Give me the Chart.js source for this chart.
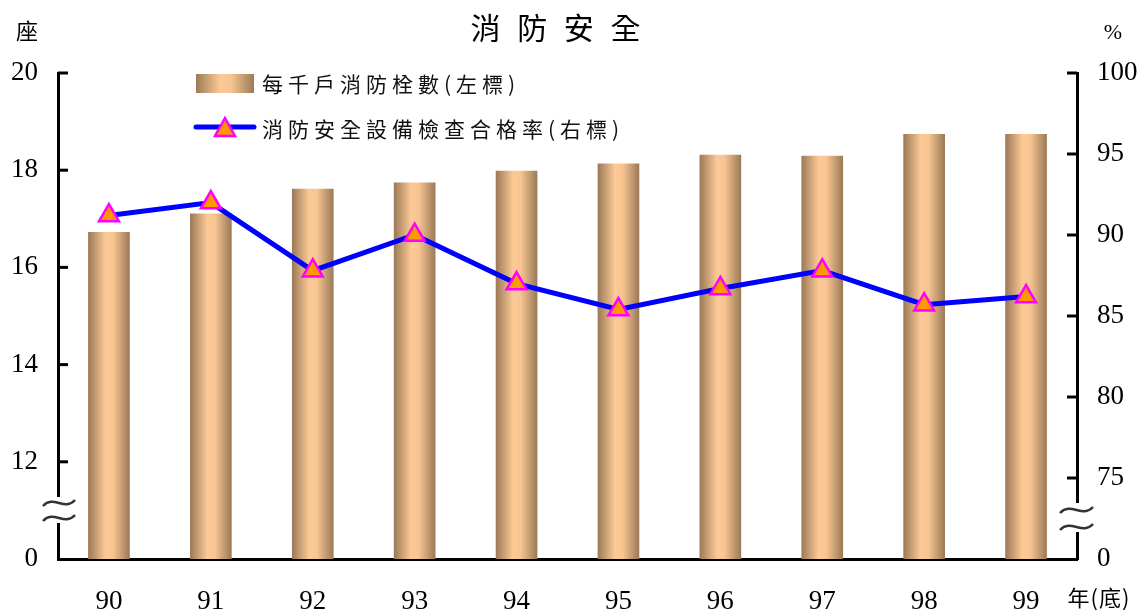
<!DOCTYPE html>
<html>
<head>
<meta charset="utf-8">
<script src="https://cdn.jsdelivr.net/npm/chart.js@4"></script>
<style>
  html, body { margin: 0; padding: 0; background: #fff; }
  #wrap { width: 1137px; height: 613px; }
</style>
</head>
<body>
<div id="wrap"><canvas id="myChart" width="1137" height="613"></canvas></div>
<script>
// 資料
const years = ['90', '91', '92', '93', '94', '95', '96', '97', '98', '99'];
const hydrants = [16.72, 17.10, 17.61, 17.74, 17.98, 18.13, 18.31, 18.29, 18.74, 18.74]; // 每千戶消防栓數
const passRate = [91.2, 92.0, 87.8, 90.0, 87.0, 85.4, 86.7, 87.8, 85.7, 86.2]; // 合格率 %
const leftTicks = ['0', '12', '14', '16', '18', '20'];
const rightTicks = ['0', '75', '80', '85', '90', '95', '100'];
const legendLabels = ['每千戶消防栓數(左標)', '消防安全設備檢查合格率(右標)'];
const titleText = '消 防 安 全';

const ctx = document.getElementById('myChart').getContext('2d');
const cjk = '"Noto Sans CJK TC", "Noto Sans CJK SC", sans-serif';
const serif = '"Liberation Serif", "DejaVu Serif", serif';

function barGradient(c, x0, x1) {
    const g = c.createLinearGradient(x0, 0, x1, 0);
    g.addColorStop(0, '#9c7a58');
    g.addColorStop(0.42, '#fdca97');
    g.addColorStop(0.6, '#f8c592');
    g.addColorStop(1, '#9c7a58');
    return g;
}

function tilde(c, x0, y, w) {
    c.beginPath();
    c.moveTo(x0, y + 3);
    c.bezierCurveTo(x0 + w / 3, y - 9, x0 + 2 * w / 3, y + 9, x0 + w, y - 3);
    c.stroke();
}

// 標題、圖例、斷軸符號
const extras = {
    id: 'extras',
    afterDraw(chart) {
        const c = chart.ctx;
        const ya = chart.scales.y, yb = chart.scales.y1;
        const left = chart.chartArea.left, right = chart.chartArea.right;
        c.save();

        // 內側刻度
        c.strokeStyle = '#000';
        c.lineWidth = 3;
        [12, 14, 16, 18, 20].forEach(v => {
            const p = ya.getPixelForValue(v);
            c.beginPath(); c.moveTo(left, p); c.lineTo(left + 10, p); c.stroke();
        });
        [75, 80, 85, 90, 95, 100].forEach(v => {
            const p = yb.getPixelForValue(v);
            c.beginPath(); c.moveTo(right, p); c.lineTo(right - 10, p); c.stroke();
        });

        // 斷軸
        c.fillStyle = '#fff';
        c.fillRect(left - 6, 497, 12, 26);
        c.fillRect(right - 6, 503, 12, 29);
        c.strokeStyle = '#333';
        c.lineWidth = 2.5;
        tilde(c, 43, 503, 32);
        tilde(c, 43, 518, 32);
        tilde(c, 1060, 510, 33);
        tilde(c, 1060, 527, 33);

        // 標題
        c.fillStyle = '#000';
        c.textBaseline = 'middle';
        c.textAlign = 'center';
        c.font = '30px ' + cjk;
        c.letterSpacing = '5px';
        c.fillText(titleText, 558, 28);
        c.letterSpacing = '0px';

        // 單位
        c.font = '22px ' + cjk;
        c.fillText('座', 27, 31);
        c.font = '22px ' + serif;
        c.fillText('%', 1113, 33);
        c.font = '22px ' + cjk;
        c.letterSpacing = '1px';
        c.fillText('年(底)', 1099, 598);

        // 圖例
        c.fillStyle = barGradient(c, 196, 254);
        c.fillRect(196, 74, 58, 19);
        c.strokeStyle = '#0000ff';
        c.lineWidth = 5;
        c.lineCap = 'round';
        c.beginPath(); c.moveTo(196, 127); c.lineTo(254, 127); c.stroke();
        c.beginPath();
        c.moveTo(225, 118); c.lineTo(235, 136); c.lineTo(215, 136); c.closePath();
        c.fillStyle = '#ff9900'; c.fill();
        c.strokeStyle = '#ff00ff'; c.lineWidth = 2.5; c.lineCap = 'butt'; c.stroke();

        c.fillStyle = '#111';
        c.textAlign = 'left';
        c.font = '21px ' + cjk;
        c.letterSpacing = '5px';
        c.fillText(legendLabels[0], 262, 84);
        c.fillText(legendLabels[1], 262, 129);
        c.restore();
    }
};

const myChart = new Chart(ctx, {
    type: 'bar',
    data: {
        labels: years,
        datasets: [
            {
                type: 'line',
                label: legendLabels[1],
                data: passRate,
                yAxisID: 'y1',
                order: 0,
                borderColor: '#0000ff',
                borderWidth: 5,
                pointStyle: 'triangle',
                pointRadius: 11.5,
                pointBackgroundColor: '#ff9900',
                pointBorderColor: '#ff00ff',
                pointBorderWidth: 2.5,
                tension: 0
            },
            {
                label: legendLabels[0],
                data: hydrants,
                yAxisID: 'y',
                order: 1,
                barThickness: 41,
                backgroundColor: (context) => {
                    const chart = context.chart;
                    if (!chart.chartArea || context.dataIndex === undefined) return '#d8a878';
                    const x = chart.scales.x.getPixelForValue(context.dataIndex);
                    return barGradient(chart.ctx, x - 20.5, x + 20.5);
                }
            }
        ]
    },
    options: {
        responsive: false,
        animation: false,
        devicePixelRatio: 1,
        layout: { padding: { top: 73, left: 0, right: 0, bottom: 0 } },
        plugins: {
            legend: { display: false },
            tooltip: { enabled: false }
        },
        scales: {
            x: {
                offset: true,
                grid: { display: false, drawTicks: false },
                border: { display: true, color: '#000', width: 3 },
                ticks: { color: '#000', font: { family: serif, size: 27 }, padding: 27 },
                afterFit: (s) => { s.height = 54; }
            },
            y: {
                position: 'left',
                min: 10,
                max: 20,
                grid: { drawOnChartArea: false, drawTicks: false },
                border: { display: true, color: '#000', width: 3 },
                ticks: {
                    stepSize: 2,
                    color: '#000',
                    font: { family: serif, size: 27 },
                    padding: 20,
                    callback: (v, i) => leftTicks[i]
                },
                afterFit: (s) => { s.width = 58; }
            },
            y1: {
                position: 'right',
                min: 70,
                max: 100,
                grid: { drawOnChartArea: false, drawTicks: false },
                border: { display: true, color: '#000', width: 3 },
                ticks: {
                    stepSize: 5,
                    color: '#000',
                    font: { family: serif, size: 27 },
                    padding: 20,
                    callback: (v, i) => rightTicks[i]
                },
                afterFit: (s) => { s.width = 60; }
            }
        }
    },
    plugins: [extras]
});
</script>
</body>
</html>
